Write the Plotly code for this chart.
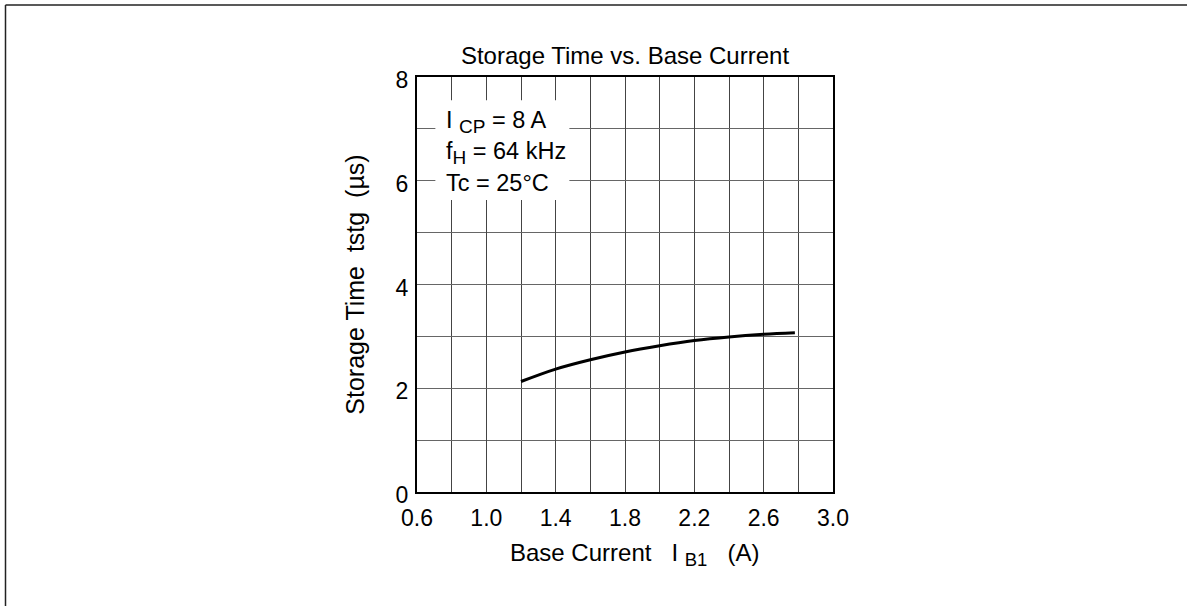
import plotly.graph_objects as go

# Data
ib1 = [1.2, 1.4, 1.6, 1.8, 2.0, 2.2, 2.4, 2.6, 2.78]
tstg = [2.13, 2.37, 2.55, 2.70, 2.82, 2.92, 2.99, 3.04, 3.07]

x_ticks = [0.6, 1.0, 1.4, 1.8, 2.2, 2.6, 3.0]
x_tick_labels = ["0.6", "1.0", "1.4", "1.8", "2.2", "2.6", "3.0"]
y_ticks = [0, 2, 4, 6, 8]

SUB = "<sub><span style='font-size:19px'>{}</span></sub>"
cond_lines = ["I " + SUB.format("CP") + " = 8 A",
              "f" + SUB.format("H") + " = 64 kHz",
              "Tc = 25°C"]
cond_y = [7.13, 6.53, 5.95]

x_title = "Base Current   I <sub><span style='font-size:18.5px'>B1</span></sub>   (A)"
y_title = "Storage Time  tstg  (µs)"
chart_title = "Storage Time vs. Base Current"

FONT = "Liberation Sans, Arial, sans-serif"

fig = go.Figure()
fig.add_trace(go.Scatter(x=ib1, y=tstg, mode="lines",
                         line=dict(color="black", width=3, shape="spline", smoothing=1.0),
                         showlegend=False, hoverinfo="skip"))

L, R, T, B = 417, 354, 77, 114
W, H = 1187, 606
pw, ph = W - L - R, H - T - B

fig.update_layout(
    width=W, height=H,
    margin=dict(l=L, r=R, t=T, b=B),
    paper_bgcolor="white", plot_bgcolor="white",
    font=dict(family=FONT, size=23, color="black"),
    title=dict(text=chart_title, x=(L + pw / 2) / W, xanchor="center",
               y=1 - 56 / H, yanchor="middle", font=dict(family=FONT, size=24, color="black")),
    xaxis=dict(range=[0.6, 3.0], tickvals=x_ticks, ticktext=x_tick_labels,
               tickfont=dict(family=FONT, size=23, color="black"),
               ticklabelstandoff=4,
               showgrid=True, gridcolor="#444", gridwidth=1,
               minor=dict(dtick=0.2, tick0=0.6, showgrid=True, gridcolor="#444", gridwidth=1),
               showline=True, linecolor="black", linewidth=2, mirror=True,
               ticks="", zeroline=False, fixedrange=True),
    yaxis=dict(range=[0, 8], tickvals=y_ticks,
               tickfont=dict(family=FONT, size=23, color="black"),
               ticklabelshift=3, ticklabelstandoff=2,
               showgrid=True, gridcolor="#666", gridwidth=1,
               minor=dict(dtick=1, tick0=0, showgrid=True, gridcolor="#666", gridwidth=1),
               showline=True, linecolor="black", linewidth=2, mirror=True,
               ticks="", zeroline=False, fixedrange=True,
               title=dict(text=y_title, standoff=24,
                          font=dict(family=FONT, size=25, color="black"))),
)

# x-axis title as annotation (slightly right of centre, as in the reference)
fig.add_annotation(x=0.5, y=0, xref="paper", yref="paper", text=x_title, showarrow=False,
                   xanchor="center", yanchor="middle", xshift=9, yshift=-62,
                   font=dict(family=FONT, size=24, color="black"))

# white box behind the condition text
fig.add_shape(type="rect", xref="x", yref="y", x0=0.706, x1=1.479, y0=5.63, y1=7.55,
              fillcolor="white", line=dict(width=0), layer="above")

for txt, yy in zip(cond_lines, cond_y):
    fig.add_annotation(x=0.755, y=yy, xref="x", yref="y", text=txt, showarrow=False,
                       xanchor="left", yanchor="middle",
                       font=dict(family=FONT, size=23.5, color="black"))

# outer frame lines (top and left)
top_y = (H - B - 5) / ph
left_x = (5.5 - L) / pw
fig.add_shape(type="line", xref="paper", yref="paper", x0=left_x, x1=3, y0=top_y, y1=top_y,
              line=dict(color="#222", width=1.5))
fig.add_shape(type="line", xref="paper", yref="paper", x0=left_x, x1=left_x, y0=top_y, y1=-2,
              line=dict(color="#222", width=1.5))

fig.write_html("out.html", config={"displayModeBar": False},
               post_script="document.body.style.margin='0';document.body.style.overflow='hidden';")
